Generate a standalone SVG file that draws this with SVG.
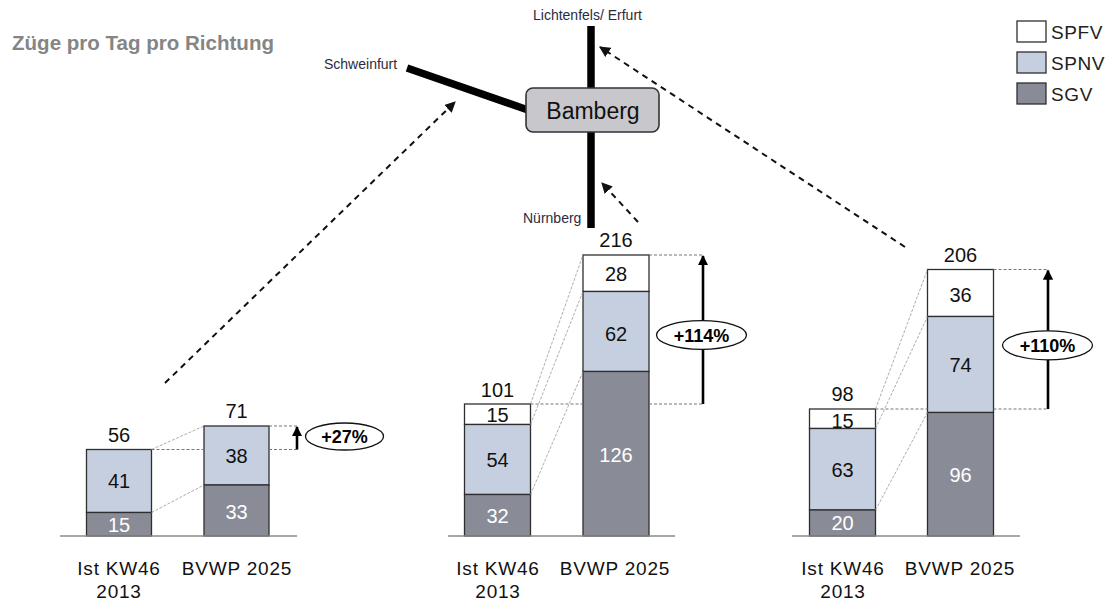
<svg xmlns="http://www.w3.org/2000/svg" width="1113" height="605" viewBox="0 0 1113 605">
  <defs>
    <marker id="dashHead" viewBox="0 0 10 10" refX="9" refY="5" markerWidth="5.5" markerHeight="5.5" orient="auto" markerUnits="strokeWidth">
      <path d="M0,0 L10,5 L0,10 z" fill="#111"/>
    </marker>
    <marker id="growHead" viewBox="0 0 10 10" refX="9" refY="5" markerWidth="4" markerHeight="4" orient="auto" markerUnits="strokeWidth">
      <path d="M0,0 L10,5 L0,10 z" fill="#000"/>
    </marker>
    <style>
      .title { font-family: "Liberation Sans", Arial, sans-serif; font-weight: bold; font-size: 21px; fill: #858585; }
      .place { font-family: "Liberation Sans", Arial, sans-serif; font-size: 14px; fill: #2b2b3f; }
      .hub { font-family: "Liberation Sans", Arial, sans-serif; font-size: 23px; fill: #111; text-anchor: middle; }
      .legend { font-family: "Liberation Sans", Arial, sans-serif; font-size: 19px; fill: #222; letter-spacing: 0.6px; }
      .val { font-family: "Liberation Sans", Arial, sans-serif; font-size: 20px; fill: #111; text-anchor: middle; }
      .valw { font-family: "Liberation Sans", Arial, sans-serif; font-size: 20px; fill: #fff; text-anchor: middle; }
      .axis { font-family: "Liberation Sans", Arial, sans-serif; font-size: 19px; fill: #111; text-anchor: middle; letter-spacing: 0.8px; }
      .pct { font-family: "Liberation Sans", Arial, sans-serif; font-size: 18px; font-weight: bold; fill: #000; text-anchor: middle; }
      .sgv { fill: #898c96; stroke: #2e2e2e; stroke-width: 1.3; }
      .spnv { fill: #c5cfe0; stroke: #2e2e2e; stroke-width: 1.3; }
      .spfv { fill: #ffffff; stroke: #2e2e2e; stroke-width: 1.3; }
      .base { stroke: #8a8a8a; stroke-width: 1.6; fill: none; }
      .guide { stroke: #777; stroke-width: 1.1; stroke-dasharray: 3 2; fill: none; }
      .link { stroke: #999; stroke-width: 0.8; stroke-dasharray: 3 1.5; fill: none; }
      .grow { stroke: #000; stroke-width: 2.6; fill: none; marker-end: url(#growHead); }
      .badge { fill: #fff; stroke: #111; stroke-width: 1.3; }
      .track { stroke: #000; stroke-width: 7.5; fill: none; }
      .flow { stroke: #111; stroke-width: 2; stroke-dasharray: 6 5; fill: none; marker-end: url(#dashHead); }
    </style>
  </defs>

  <rect width="1113" height="605" fill="#ffffff"/>

  <text class="title" x="12" y="50" textLength="262" lengthAdjust="spacingAndGlyphs">Züge pro Tag pro Richtung</text>

  <!-- legend -->
  <g id="legend">
    <rect x="1017" y="21" width="29" height="21" fill="#ffffff" stroke="#2e2e2e" stroke-width="1.3"/>
    <text class="legend" x="1051" y="39">SPFV</text>
    <rect x="1017" y="52" width="29" height="21" fill="#c5cfe0" stroke="#2e2e2e" stroke-width="1.3"/>
    <text class="legend" x="1051" y="70">SPNV</text>
    <rect x="1017" y="83" width="29" height="21" fill="#898c96" stroke="#2e2e2e" stroke-width="1.3"/>
    <text class="legend" x="1051" y="101">SGV</text>
  </g>

  <!-- rail lines around the hub -->
  <g id="tracks">
    <line class="track" x1="591" y1="26" x2="591" y2="90"/>
    <line class="track" x1="591" y1="130" x2="591" y2="228"/>
    <line class="track" x1="407" y1="68" x2="528" y2="110"/>
  </g>

  <g id="node-schweinfurt"><text class="place" x="324" y="69">Schweinfurt</text></g>
  <g id="node-lichtenfels"><text class="place" x="533" y="20">Lichtenfels/ Erfurt</text></g>
  <g id="node-nuernberg"><text class="place" x="523" y="223">Nürnberg</text></g>

  <g id="node-bamberg">
    <rect x="526" y="88" width="133" height="44" rx="7" fill="#c8c8cc" stroke="#333" stroke-width="1.6"/>
    <text class="hub" x="593" y="119">Bamberg</text>
  </g>

  <!-- dashed arrows from each chart to its line -->
  <g id="connectors">
    <line class="flow" x1="165" y1="383" x2="455" y2="102"/>
    <line class="flow" x1="638" y1="222" x2="602" y2="183"/>
    <line class="flow" x1="905" y1="247" x2="600" y2="47"/>
  </g>

  <!-- chart: Schweinfurt -->
  <g id="chart-schweinfurt">
    <rect class="spnv" x="86.5" y="449.5" width="65" height="63"/>
    <rect class="sgv" x="86.5" y="512.5" width="65" height="23.5"/>
    <rect class="spnv" x="204" y="426" width="65" height="59"/>
    <rect class="sgv" x="204" y="485" width="65" height="51"/>
    <line class="link" x1="151.5" y1="449.5" x2="204" y2="426"/>
    <line class="link" x1="151.5" y1="512.5" x2="204" y2="485"/>
    <line class="guide" x1="151.5" y1="449.5" x2="204" y2="449.5"/>
    <line class="guide" x1="269" y1="449.5" x2="297" y2="449.5"/>
    <line class="guide" x1="269" y1="426" x2="297" y2="426"/>
    <line class="base" x1="60" y1="536" x2="297" y2="536"/>
    <line class="grow" x1="297" y1="449.5" x2="297" y2="427"/>
    <ellipse class="badge" cx="344.5" cy="436.5" rx="39" ry="13.5"/>
    <text class="pct" x="344.5" y="443">+27%</text>
    <text class="val" x="119" y="442">56</text>
    <text class="val" x="119" y="488">41</text>
    <text class="valw" x="119" y="532">15</text>
    <text class="val" x="236.5" y="418">71</text>
    <text class="val" x="236.5" y="463">38</text>
    <text class="valw" x="236.5" y="519">33</text>
    <text class="axis" x="119" y="575">Ist KW46</text>
    <text class="axis" x="119" y="598">2013</text>
    <text class="axis" x="237" y="575">BVWP 2025</text>
  </g>

  <!-- chart: Nürnberg -->
  <g id="chart-nuernberg">
    <rect class="spfv" x="464.5" y="404" width="66" height="20.5"/>
    <rect class="spnv" x="464.5" y="424.5" width="66" height="70"/>
    <rect class="sgv" x="464.5" y="494.5" width="66" height="41.5"/>
    <rect class="spfv" x="583" y="255" width="66" height="36.5"/>
    <rect class="spnv" x="583" y="291.5" width="66" height="80"/>
    <rect class="sgv" x="583" y="371.5" width="66" height="164.5"/>
    <line class="link" x1="530.5" y1="404" x2="583" y2="255"/>
    <line class="link" x1="530.5" y1="424.5" x2="583" y2="291.5"/>
    <line class="link" x1="530.5" y1="494.5" x2="583" y2="371.5"/>
    <line class="guide" x1="530.5" y1="404" x2="583" y2="404"/>
    <line class="guide" x1="649" y1="404" x2="703" y2="404"/>
    <line class="guide" x1="649" y1="255" x2="703" y2="255"/>
    <line class="base" x1="448" y1="536" x2="675" y2="536"/>
    <line class="grow" x1="703" y1="404" x2="703" y2="256"/>
    <ellipse class="badge" cx="701.5" cy="335" rx="45" ry="14.3"/>
    <text class="pct" x="701.5" y="341.5">+114%</text>
    <text class="val" x="497.5" y="397">101</text>
    <text class="val" x="497.5" y="422">15</text>
    <text class="val" x="497.5" y="467">54</text>
    <text class="valw" x="497.5" y="523">32</text>
    <text class="val" x="616" y="247">216</text>
    <text class="val" x="616" y="281">28</text>
    <text class="val" x="616" y="341">62</text>
    <text class="valw" x="616" y="462">126</text>
    <text class="axis" x="498" y="575">Ist KW46</text>
    <text class="axis" x="498" y="598">2013</text>
    <text class="axis" x="615" y="575">BVWP 2025</text>
  </g>

  <!-- chart: Lichtenfels/ Erfurt -->
  <g id="chart-lichtenfels">
    <rect class="spfv" x="809.5" y="409" width="66" height="19.5"/>
    <rect class="spnv" x="809.5" y="428.5" width="66" height="81.5"/>
    <rect class="sgv" x="809.5" y="510" width="66" height="26"/>
    <rect class="spfv" x="927.5" y="269.5" width="66" height="47"/>
    <rect class="spnv" x="927.5" y="316.5" width="66" height="96"/>
    <rect class="sgv" x="927.5" y="412.5" width="66" height="123.5"/>
    <line class="link" x1="875.5" y1="409" x2="927.5" y2="269.5"/>
    <line class="link" x1="875.5" y1="428.5" x2="927.5" y2="316.5"/>
    <line class="link" x1="875.5" y1="510" x2="927.5" y2="412.5"/>
    <line class="guide" x1="875.5" y1="409" x2="927.5" y2="409"/>
    <line class="guide" x1="993.5" y1="409" x2="1048" y2="409"/>
    <line class="guide" x1="993.5" y1="269.5" x2="1048" y2="269.5"/>
    <line class="base" x1="792" y1="536" x2="1020" y2="536"/>
    <line class="grow" x1="1048" y1="409" x2="1048" y2="270.5"/>
    <ellipse class="badge" cx="1047.5" cy="345.3" rx="45" ry="14.5"/>
    <text class="pct" x="1047.5" y="351.5">+110%</text>
    <text class="val" x="842.5" y="401">98</text>
    <text class="val" x="842.5" y="428">15</text>
    <text class="val" x="842.5" y="477">63</text>
    <text class="valw" x="842.5" y="530">20</text>
    <text class="val" x="960.5" y="262">206</text>
    <text class="val" x="960.5" y="302">36</text>
    <text class="val" x="960.5" y="372">74</text>
    <text class="valw" x="960.5" y="482">96</text>
    <text class="axis" x="843" y="575">Ist KW46</text>
    <text class="axis" x="843" y="598">2013</text>
    <text class="axis" x="960" y="575">BVWP 2025</text>
  </g>
</svg>
